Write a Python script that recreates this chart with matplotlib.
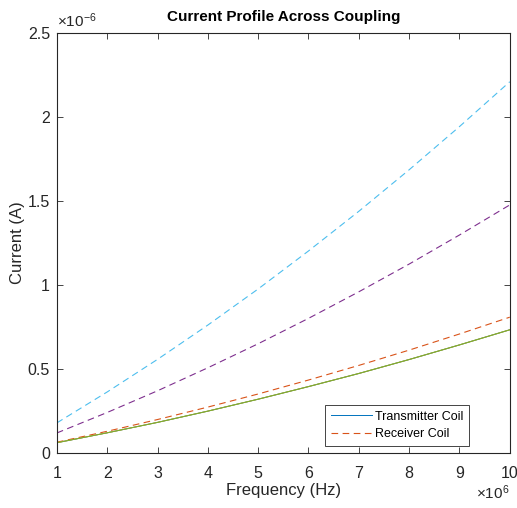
import matplotlib
matplotlib.use('Agg')
import matplotlib.pyplot as plt

plt.rcParams['font.family'] = ['Liberation Sans', 'DejaVu Sans']
plt.rcParams['mathtext.fontset'] = 'custom'
plt.rcParams['mathtext.rm'] = 'Liberation Sans'

# frecuencia en MHz (x10^6 Hz)
freq = [1, 2, 3, 4, 5, 6, 7, 8, 9, 10]

# corrientes en uA (x10^-6 A)
tx_current = [0.062, 0.121, 0.183, 0.250, 0.321, 0.396, 0.474, 0.557, 0.644, 0.734]
rx_k1 = [0.065, 0.130, 0.200, 0.274, 0.352, 0.435, 0.522, 0.613, 0.709, 0.809]
rx_k2 = [0.120, 0.242, 0.371, 0.508, 0.651, 0.802, 0.960, 1.125, 1.298, 1.477]
rx_k3 = [0.180, 0.364, 0.558, 0.762, 0.977, 1.203, 1.439, 1.686, 1.943, 2.210]

colors = ['#0072BD', '#D95319', '#EDB120', '#7E2F8E', '#77AC30', '#4DBEEE']
axis_gray = '#262626'

fig = plt.figure(figsize=(5.17, 5.08), dpi=100)
ax = fig.add_axes([0.110, 0.108, 0.876, 0.827])

l1, = ax.plot(freq, tx_current, '-', color=colors[0], lw=0.7)
l2, = ax.plot(freq, rx_k1, '--', color=colors[1], lw=0.8, dashes=(6, 4))
ax.plot(freq, tx_current, '-', color=colors[2], lw=0.7)
ax.plot(freq, rx_k2, '--', color=colors[3], lw=0.8, dashes=(6, 4))
ax.plot(freq, tx_current, '-', color=colors[4], lw=0.7)
ax.plot(freq, rx_k3, '--', color=colors[5], lw=0.8, dashes=(6, 4))

ax.set_xlim(1, 10)
ax.set_ylim(0, 2.5)
ax.set_xticks(range(1, 11))
ax.set_yticks([0, 0.5, 1, 1.5, 2, 2.5])
ax.set_yticklabels(['0', '0.5', '1', '1.5', '2', '2.5'])

for s in ax.spines.values():
    s.set_color(axis_gray)
    s.set_linewidth(0.8)
ax.tick_params(direction='in', top=True, right=True, length=4, width=0.6,
               colors=axis_gray, labelsize=11.5, pad=5)
ax.tick_params(axis='x', pad=9)

ax.set_xlabel('Frequency (Hz)', fontsize=12, color=axis_gray, labelpad=2)
ax.set_ylabel('Current (A)', fontsize=12, color=axis_gray, labelpad=2)
ax.set_title('Current Profile Across Coupling', fontsize=11, fontweight='bold',
             color='black', pad=9)

ax.text(0.0, 1.008, r'$\times\mathregular{10^{-6}}$', transform=ax.transAxes,
        fontsize=11, color=axis_gray, ha='left', va='bottom')
ax.text(1.0, -0.072, r'$\times\mathregular{10^{6}}$', transform=ax.transAxes,
        fontsize=11, color=axis_gray, ha='right', va='top')

leg = ax.legend([l1, l2], ['Transmitter Coil', 'Receiver Coil'],
                loc='lower right', bbox_to_anchor=(0.909, 0.017),
                fontsize=9, fancybox=False, framealpha=1,
                edgecolor=axis_gray, handlelength=3.3, borderpad=0.45,
                labelspacing=0.45, handletextpad=0.2, borderaxespad=0)
leg.get_frame().set_linewidth(0.6)

fig.savefig('out.png', dpi=100)
